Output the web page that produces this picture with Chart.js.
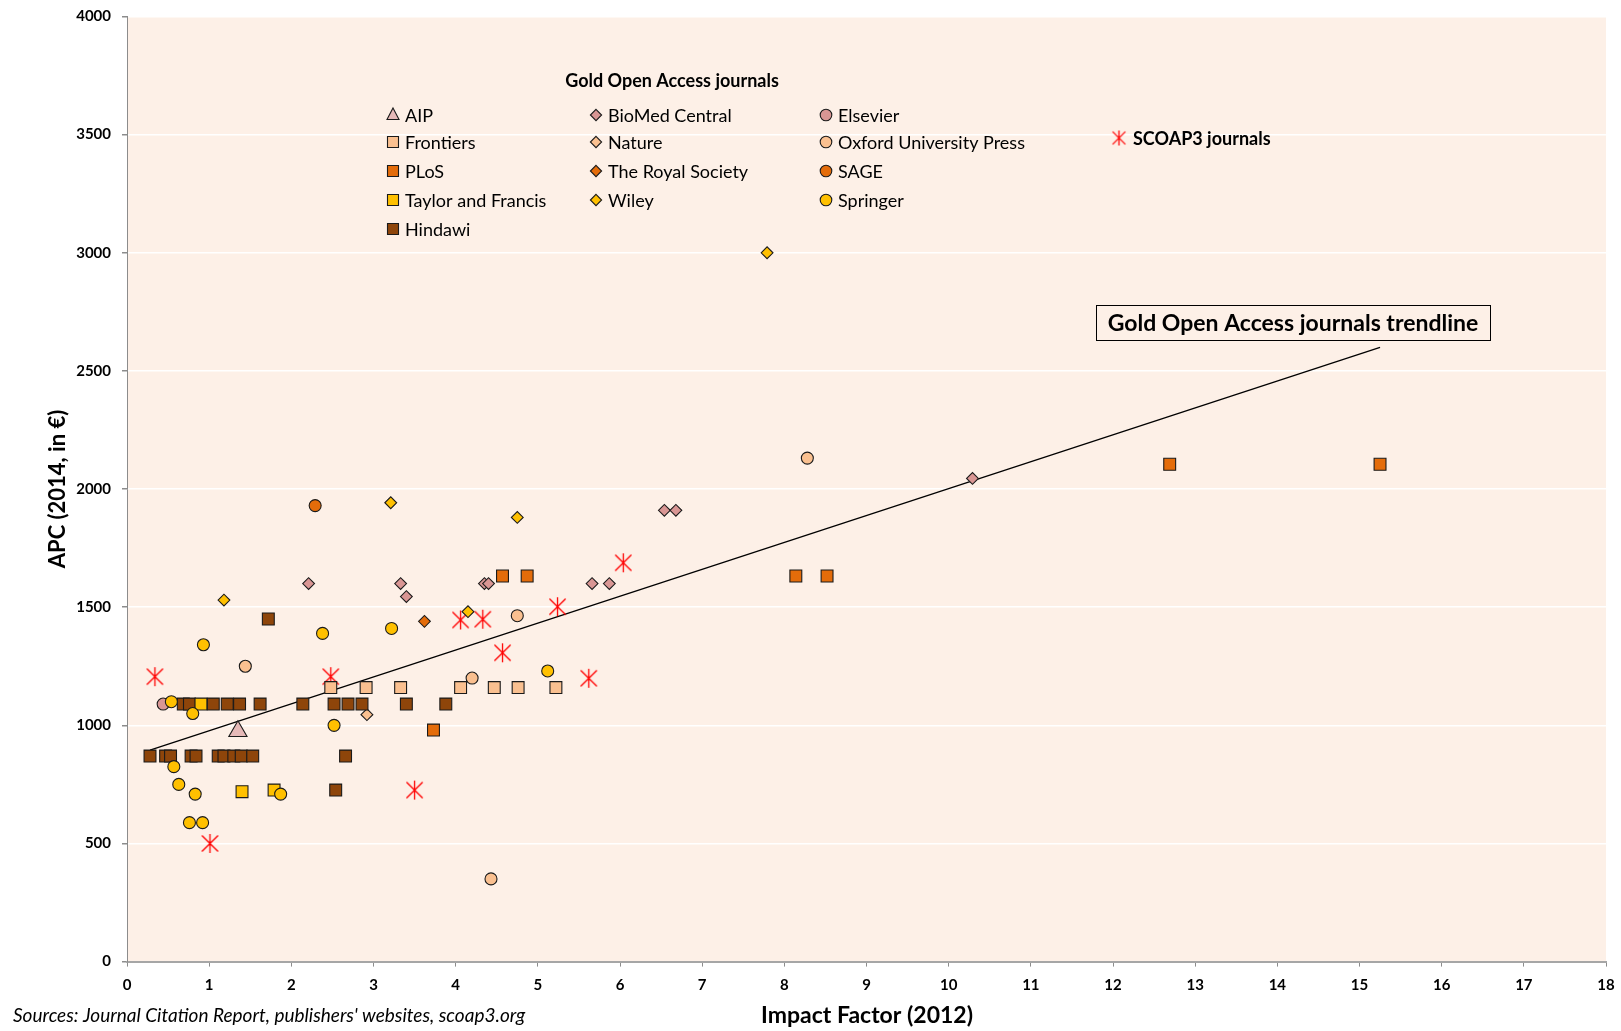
<!DOCTYPE html>
<html>
<head>
<meta charset="utf-8">
<script src="https://cdn.jsdelivr.net/npm/chart.js@4.4.1/dist/chart.umd.min.js"></script>
<style>
  html, body { margin: 0; padding: 0; background: #fff; overflow: hidden; }
  canvas { display: block; }
</style>
</head>
<body>
<canvas id="apcChart" width="1621" height="1031"></canvas>
<script>
// x = Impact Factor (2012), y = APC (2014, in euro)
const aipX = [1.35];
const aipY = [975];
const biomedX = [2.21, 3.33, 3.40, 4.35, 4.40, 5.66, 5.87, 6.54, 6.68, 10.29];
const biomedY = [1600, 1600, 1545, 1600, 1600, 1600, 1600, 1910, 1910, 2045];
const elsevierX = [0.44];
const elsevierY = [1090];
const frontiersX = [2.48, 2.91, 3.33, 4.06, 4.47, 4.76, 5.22];
const frontiersY = [1160, 1160, 1160, 1160, 1160, 1160, 1160];
const natureX = [2.92];
const natureY = [1045];
const oxfordX = [1.44, 4.20, 4.75, 4.43, 8.28];
const oxfordY = [1250, 1200, 1464, 350, 2131];
const plosX = [3.73, 4.57, 4.87, 8.14, 8.52, 12.69, 15.25];
const plosY = [980, 1632, 1632, 1632, 1632, 2105, 2105];
const royalX = [3.62];
const royalY = [1440];
const sageX = [2.29];
const sageY = [1930];
const taylorX = [0.90, 1.40, 1.79];
const taylorY = [1090, 719, 726];
const wileyX = [1.18, 3.21, 4.15, 4.75, 7.79];
const wileyY = [1530, 1942, 1481, 1880, 3000];
const springerX = [0.54, 0.80, 0.93, 2.38, 3.22, 2.52, 5.12, 0.57, 0.63, 0.83, 1.87, 0.76, 0.92];
const springerY = [1100, 1050, 1341, 1389, 1410, 1000, 1230, 825, 750, 709, 709, 588, 588];
const hindawiX = [0.685, 0.76, 1.05, 1.22, 1.37, 1.62, 2.14, 2.52, 2.69, 2.86, 3.40, 3.88,
                  0.28, 0.47, 0.53, 0.78, 0.84, 1.11, 1.18, 1.30, 1.39, 1.53, 2.66, 1.72, 2.54];
const hindawiY = [1090, 1090, 1090, 1090, 1090, 1090, 1090, 1090, 1090, 1090, 1090, 1090,
                  870, 870, 870, 870, 870, 870, 870, 870, 870, 870, 870, 1450, 726];
const scoapX = [0.34, 1.01, 2.48, 3.50, 4.06, 4.33, 4.57, 5.24, 5.62, 6.04];
const scoapY = [1206, 500, 1206, 726, 1446, 1449, 1307, 1502, 1199, 1688];
const trendX = [0.28, 15.25];
const trendY = [895, 2600];
const xTicks = [0, 18, 1];
const yTicks = [0, 4000, 500];

const ROSE = '#D99694', ROSE_LIGHT = '#E6B9B8', PEACH = '#FAC090', ORANGE = '#E46C0A',
      GOLD = '#FFC000', BROWN = '#8E450A', STAR_RED = '#FF0000';
const FONT = 'Lato, "Open Sans", sans-serif';

function pts(xs, ys) {
  return xs.map((x, i) => ({ x: x, y: ys[i] }));
}

// Excel-style star: vertical bar plus an X
function starImage(h, color, lw) {
  const c = document.createElement('canvas');
  const s = Math.ceil(2 * h + 4);
  c.width = c.height = s;
  const g = c.getContext('2d');
  const m = s / 2;
  g.strokeStyle = color;
  g.lineWidth = lw;
  g.beginPath();
  g.moveTo(m, m - h); g.lineTo(m, m + h);
  g.moveTo(m - h * 0.85, m - h * 0.85); g.lineTo(m + h * 0.85, m + h * 0.85);
  g.moveTo(m - h * 0.85, m + h * 0.85); g.lineTo(m + h * 0.85, m - h * 0.85);
  g.stroke();
  return c;
}
const plotStar = starImage(9.5, STAR_RED, 1.3);
const legendStar = starImage(7.5, STAR_RED, 1.3);

const styleOf = {
  rect: 8.4, rectRot: 5.9, circle: 6, triangle: 10.5
};

function series(label, xs, ys, style, color, order) {
  return {
    label: label,
    data: pts(xs, ys),
    pointStyle: style,
    pointRadius: styleOf[style],
    backgroundColor: color,
    borderColor: '#1a1a1a',
    borderWidth: 1.1,
    order: order,
    showLine: false
  };
}

const datasets = [
  series('Springer', springerX, springerY, 'circle', GOLD, 1),
  series('Taylor and Francis', taylorX, taylorY, 'rect', GOLD, 2),
  series('Elsevier', elsevierX, elsevierY, 'circle', ROSE, 3),
  series('Hindawi', hindawiX, hindawiY, 'rect', BROWN, 4),
  series('AIP', aipX, aipY, 'triangle', ROSE_LIGHT, 5),
  series('Nature', natureX, natureY, 'rectRot', PEACH, 6),
  series('Frontiers', frontiersX, frontiersY, 'rect', PEACH, 7),
  series('Oxford University Press', oxfordX, oxfordY, 'circle', PEACH, 8),
  series('PLoS', plosX, plosY, 'rect', ORANGE, 9),
  series('The Royal Society', royalX, royalY, 'rectRot', ORANGE, 10),
  series('SAGE', sageX, sageY, 'circle', ORANGE, 11),
  series('Wiley', wileyX, wileyY, 'rectRot', GOLD, 12),
  series('BioMed Central', biomedX, biomedY, 'rectRot', ROSE, 13),
  {
    label: 'SCOAP3 journals',
    data: pts(scoapX, scoapY),
    pointStyle: plotStar,
    pointRadius: 9,
    order: 14,
    showLine: false
  },
  {
    label: 'Gold Open Access journals trendline',
    type: 'line',
    data: pts(trendX, trendY),
    borderColor: '#000',
    borderWidth: 1.3,
    pointRadius: 0,
    fill: false,
    order: 20
  }
];

// legend entries laid out like the original (3 columns + SCOAP3 on the right)
const legendItems = [
  ['AIP', 'triangle', ROSE_LIGHT, 0, 0],
  ['Frontiers', 'rect', PEACH, 0, 1],
  ['PLoS', 'rect', ORANGE, 0, 2],
  ['Taylor and Francis', 'rect', GOLD, 0, 3],
  ['Hindawi', 'rect', BROWN, 0, 4],
  ['BioMed Central', 'rectRot', ROSE, 1, 0],
  ['Nature', 'rectRot', PEACH, 1, 1],
  ['The Royal Society', 'rectRot', ORANGE, 1, 2],
  ['Wiley', 'rectRot', GOLD, 1, 3],
  ['Elsevier', 'circle', ROSE, 2, 0],
  ['Oxford University Press', 'circle', PEACH, 2, 1],
  ['SAGE', 'circle', ORANGE, 2, 2],
  ['Springer', 'circle', GOLD, 2, 3]
];

function drawMarker(ctx, style, x, y, color) {
  ctx.save();
  ctx.fillStyle = color;
  ctx.strokeStyle = '#1a1a1a';
  ctx.lineWidth = 1.1;
  ctx.beginPath();
  if (style === 'rect') {
    ctx.rect(x - 5.5, y - 5.5, 11, 11);
  } else if (style === 'rectRot') {
    ctx.moveTo(x, y - 5.6); ctx.lineTo(x + 5.6, y); ctx.lineTo(x, y + 5.6); ctx.lineTo(x - 5.6, y);
    ctx.closePath();
  } else if (style === 'circle') {
    ctx.arc(x, y, 5.8, 0, Math.PI * 2);
  } else if (style === 'triangle') {
    ctx.moveTo(x, y - 7); ctx.lineTo(x + 6, y + 4.5); ctx.lineTo(x - 6, y + 4.5);
    ctx.closePath();
  }
  ctx.fill();
  ctx.stroke();
  ctx.restore();
}

const plotBackground = {
  id: 'plotBackground',
  beforeDraw(chart) {
    const a = chart.chartArea, ctx = chart.ctx;
    ctx.save();
    ctx.fillStyle = '#FDF0E7';
    ctx.fillRect(a.left, a.top, a.right - a.left, a.bottom - a.top);
    ctx.restore();
  }
};

const extras = {
  id: 'extras',
  afterDraw(chart) {
    const ctx = chart.ctx;
    ctx.save();
    ctx.fillStyle = '#000';
    ctx.textBaseline = 'middle';

    // x tick labels, placed from the library's own ticks
    const xs = chart.scales.x;
    ctx.font = 'bold 15px ' + FONT;
    ctx.textAlign = 'center';
    xs.ticks.forEach(function (t) {
      ctx.fillText(String(t.value), xs.getPixelForValue(t.value), 985);
    });

    // legend
    ctx.font = 'bold 18px ' + FONT;
    ctx.textAlign = 'center';
    ctx.fillText('Gold Open Access journals', 672, 81);
    const colMark = [393, 596, 826];
    const rowY = [115, 142, 171, 200, 229];
    ctx.font = '18px ' + FONT;
    ctx.textAlign = 'left';
    legendItems.forEach(function (it) {
      const mx = colMark[it[3]], my = rowY[it[4]];
      drawMarker(ctx, it[1], mx, my, it[2]);
      ctx.fillStyle = '#000';
      ctx.fillText(it[0], mx + 12, my + 1);
    });
    ctx.drawImage(legendStar, 1119 - legendStar.width / 2, 138 - legendStar.height / 2);
    ctx.font = 'bold 18px ' + FONT;
    ctx.fillText('SCOAP3 journals', 1133, 139);

    // trendline label
    ctx.fillStyle = '#FDF0E7';
    ctx.fillRect(1096.5, 305.5, 394, 35);
    ctx.strokeStyle = '#000';
    ctx.lineWidth = 1;
    ctx.strokeRect(1096.5, 305.5, 394, 35);
    ctx.fillStyle = '#000';
    ctx.font = 'bold 23px ' + FONT;
    ctx.textAlign = 'center';
    ctx.fillText('Gold Open Access journals trendline', 1293, 324);

    // axis titles
    ctx.font = 'bold 23px ' + FONT;
    ctx.fillText('Impact Factor (2012)', 867, 1016);
    ctx.save();
    ctx.translate(58, 489);
    ctx.rotate(-Math.PI / 2);
    ctx.font = 'bold 22px ' + FONT;
    ctx.fillText('APC (2014, in €)', 0, 0);
    ctx.restore();

    // source note
    ctx.font = 'italic 19px ' + FONT;
    ctx.textAlign = 'left';
    ctx.fillText("Sources: Journal Citation Report, publishers' websites, scoap3.org", 13, 1016);
    ctx.restore();
  }
};

const ctx = document.getElementById('apcChart');

new Chart(ctx, {
  type: 'scatter',
  data: { datasets: datasets },
  options: {
    responsive: false,
    animation: false,
    devicePixelRatio: 1,
    layout: { padding: { top: 16.5, right: 15, left: 0, bottom: 0 } },
    plugins: {
      legend: { display: false },
      tooltip: { enabled: false }
    },
    scales: {
      x: {
        type: 'linear',
        min: xTicks[0],
        max: xTicks[1],
        ticks: {
          stepSize: xTicks[2],
          autoSkip: false,
          display: false
        },
        grid: { drawOnChartArea: false, tickLength: 5, color: '#8c8c8c' },
        border: { color: '#a6a6a6', width: 2 },
        afterFit: function (s) { s.height = 1031 - 961.6; }
      },
      y: {
        min: yTicks[0],
        max: yTicks[1],
        ticks: {
          stepSize: yTicks[2],
          padding: 11,
          color: '#000',
          font: { family: FONT, size: 15, weight: 'bold', lineHeight: 0.5 },
          callback: function (v) { return String(v); }
        },
        grid: { color: '#ffffff', lineWidth: 1.5, tickLength: 5, tickColor: '#8c8c8c' },
        border: { color: '#8c8c8c', width: 1 },
        afterFit: function (s) { s.width = 127; }
      }
    }
  },
  plugins: [plotBackground, extras]
});
</script>
</body>
</html>
